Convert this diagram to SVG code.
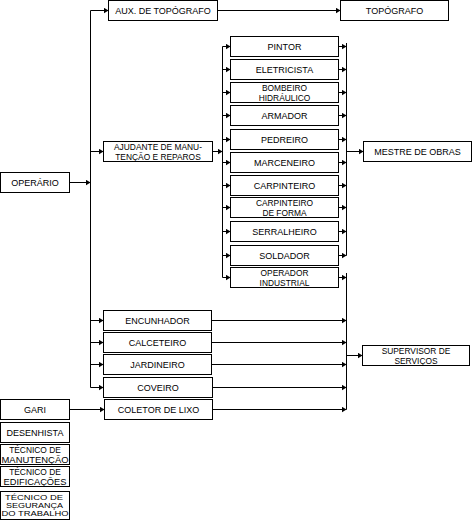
<svg xmlns="http://www.w3.org/2000/svg" width="472" height="530" viewBox="0 0 472 530">
<style>
  .box { fill: #fff; stroke: #000; stroke-width: 1; }
  .t { font-family: "Liberation Sans", Arial, sans-serif; font-size: 9px; fill: #000; text-anchor: middle; }
  .s { font-size: 8.4px; }
  .xs { font-size: 7.4px; }
  .c { stroke: #000; stroke-width: 1; fill: none; }
  .a { stroke: #000; stroke-width: 1; fill: none; marker-end: url(#ah); }
</style>
<defs>
  <marker id="ah" markerUnits="userSpaceOnUse" markerWidth="5" markerHeight="6" refX="5" refY="3" orient="auto">
    <path d="M0,0 L5,3 L0,6 z" fill="#000"/>
  </marker>
</defs>
<rect width="472" height="530" fill="#fff"/>

<g id="connectors">
  <line class="c" x1="90.5" y1="10.5" x2="90.5" y2="387.5"/>
  <line class="a" x1="69.5" y1="182.5" x2="90.5" y2="182.5"/>
  <line class="a" x1="90.5" y1="10.5" x2="108.5" y2="10.5"/>
  <line class="a" x1="90.5" y1="151.5" x2="103.5" y2="151.5"/>
  <line class="a" x1="90.5" y1="320.5" x2="103.5" y2="320.5"/>
  <line class="a" x1="90.5" y1="342.5" x2="103.5" y2="342.5"/>
  <line class="a" x1="90.5" y1="364.5" x2="103.5" y2="364.5"/>
  <line class="a" x1="90.5" y1="387.5" x2="103.5" y2="387.5"/>
  <line class="a" x1="217.5" y1="10.5" x2="340.5" y2="10.5"/>
  <line class="a" x1="212.5" y1="151.5" x2="222.5" y2="151.5"/>
  <line class="c" x1="222.5" y1="46.5" x2="222.5" y2="277.5"/>
  <line class="a" x1="222.5" y1="46.5" x2="230.5" y2="46.5"/>
  <line class="a" x1="222.5" y1="69.5" x2="230.5" y2="69.5"/>
  <line class="a" x1="222.5" y1="92.5" x2="230.5" y2="92.5"/>
  <line class="a" x1="222.5" y1="115.5" x2="230.5" y2="115.5"/>
  <line class="a" x1="222.5" y1="139.5" x2="230.5" y2="139.5"/>
  <line class="a" x1="222.5" y1="162.5" x2="230.5" y2="162.5"/>
  <line class="a" x1="222.5" y1="185.5" x2="230.5" y2="185.5"/>
  <line class="a" x1="222.5" y1="207.5" x2="230.5" y2="207.5"/>
  <line class="a" x1="222.5" y1="231.5" x2="230.5" y2="231.5"/>
  <line class="a" x1="222.5" y1="255.5" x2="230.5" y2="255.5"/>
  <line class="a" x1="222.5" y1="277.5" x2="230.5" y2="277.5"/>
  <line class="c" x1="346.5" y1="43" x2="346.5" y2="255.5"/>
  <line class="a" x1="338.5" y1="46.5" x2="346.5" y2="46.5"/>
  <line class="a" x1="338.5" y1="69.5" x2="346.5" y2="69.5"/>
  <line class="a" x1="338.5" y1="92.5" x2="346.5" y2="92.5"/>
  <line class="a" x1="338.5" y1="115.5" x2="346.5" y2="115.5"/>
  <line class="a" x1="338.5" y1="139.5" x2="346.5" y2="139.5"/>
  <line class="a" x1="338.5" y1="162.5" x2="346.5" y2="162.5"/>
  <line class="a" x1="338.5" y1="185.5" x2="346.5" y2="185.5"/>
  <line class="a" x1="338.5" y1="207.5" x2="346.5" y2="207.5"/>
  <line class="a" x1="338.5" y1="231.5" x2="346.5" y2="231.5"/>
  <line class="a" x1="338.5" y1="255.5" x2="346.5" y2="255.5"/>
  <line class="a" x1="346.5" y1="151.5" x2="363.5" y2="151.5"/>
  <line class="c" x1="346.5" y1="273" x2="346.5" y2="409.5"/>
  <line class="a" x1="338.5" y1="277.5" x2="346.5" y2="277.5"/>
  <line class="a" x1="211.5" y1="320.5" x2="346.5" y2="320.5"/>
  <line class="a" x1="211.5" y1="342.5" x2="346.5" y2="342.5"/>
  <line class="a" x1="211.5" y1="364.5" x2="346.5" y2="364.5"/>
  <line class="a" x1="212.5" y1="387.5" x2="346.5" y2="387.5"/>
  <line class="a" x1="212.5" y1="409.5" x2="346.5" y2="409.5"/>
  <line class="a" x1="346.5" y1="355.5" x2="362.5" y2="355.5"/>
  <line class="a" x1="69.5" y1="409.5" x2="104.5" y2="409.5"/>
</g>

<g id="aux"><rect class="box" x="108.5" y="0.5" width="109" height="20"/><text class="t" x="163" y="14">AUX. DE TOPÓGRAFO</text></g>
<g id="topografo"><rect class="box" x="340.5" y="0.5" width="108" height="20"/><text class="t" x="394.5" y="14">TOPÓGRAFO</text></g>
<g id="ajudante"><rect class="box" x="103.5" y="141.5" width="109" height="20"/><text class="t s" x="158" y="150.2">AJUDANTE DE MANU-</text><text class="t s" x="158" y="159.6">TENÇÃO E REPAROS</text></g>
<g id="operario"><rect class="box" x="0.5" y="172.5" width="69" height="20"/><text class="t" x="35" y="186">OPERÁRIO</text></g>

<g id="pintor"><rect class="box" x="230.5" y="36.5" width="108" height="20"/><text class="t" x="284.5" y="50">PINTOR</text></g>
<g id="eletricista"><rect class="box" x="230.5" y="59.5" width="108" height="20"/><text class="t" x="284.5" y="73">ELETRICISTA</text></g>
<g id="bombeiro"><rect class="box" x="230.5" y="82.5" width="108" height="20"/><text class="t s" x="284.5" y="91.2">BOMBEIRO</text><text class="t s" x="284.5" y="100.6">HIDRÁULICO</text></g>
<g id="armador"><rect class="box" x="230.5" y="105.5" width="108" height="20"/><text class="t" x="284.5" y="119">ARMADOR</text></g>
<g id="pedreiro"><rect class="box" x="230.5" y="129.5" width="108" height="20"/><text class="t" x="284.5" y="143">PEDREIRO</text></g>
<g id="marceneiro"><rect class="box" x="230.5" y="152.5" width="108" height="20"/><text class="t" x="284.5" y="166">MARCENEIRO</text></g>
<g id="carpinteiro"><rect class="box" x="230.5" y="175.5" width="108" height="20"/><text class="t" x="284.5" y="189">CARPINTEIRO</text></g>
<g id="carpinteiro-forma"><rect class="box" x="230.5" y="197.5" width="108" height="20"/><text class="t s" x="284.5" y="206.2">CARPINTEIRO</text><text class="t s" x="284.5" y="215.6">DE FORMA</text></g>
<g id="serralheiro"><rect class="box" x="230.5" y="221.5" width="108" height="20"/><text class="t" x="284.5" y="235">SERRALHEIRO</text></g>
<g id="soldador"><rect class="box" x="230.5" y="245.5" width="108" height="20"/><text class="t" x="284.5" y="259">SOLDADOR</text></g>
<g id="operador"><rect class="box" x="230.5" y="267.5" width="108" height="20"/><text class="t s" x="284.5" y="276.2">OPERADOR</text><text class="t s" x="284.5" y="285.6">INDUSTRIAL</text></g>

<g id="mestre"><rect class="box" x="363.5" y="141.5" width="108" height="20"/><text class="t" x="417.5" y="155">MESTRE DE OBRAS</text></g>
<g id="supervisor"><rect class="box" x="362.5" y="345.5" width="107" height="20"/><text class="t s" x="416" y="354.2">SUPERVISOR DE</text><text class="t s" x="416" y="363.6">SERVIÇOS</text></g>

<g id="encunhador"><rect class="box" x="103.5" y="310.5" width="108" height="20"/><text class="t" x="157.5" y="324">ENCUNHADOR</text></g>
<g id="calceteiro"><rect class="box" x="103.5" y="332.5" width="108" height="20"/><text class="t" x="157.5" y="346">CALCETEIRO</text></g>
<g id="jardineiro"><rect class="box" x="103.5" y="354.5" width="108" height="20"/><text class="t" x="157.5" y="368">JARDINEIRO</text></g>
<g id="coveiro"><rect class="box" x="103.5" y="377.5" width="109" height="20"/><text class="t" x="158" y="391">COVEIRO</text></g>
<g id="coletor"><rect class="box" x="104.5" y="399.5" width="108" height="20"/><text class="t" x="158.5" y="413">COLETOR DE LIXO</text></g>

<g id="gari"><rect class="box" x="0.5" y="399.5" width="69" height="20"/><text class="t" x="35" y="413">GARI</text></g>
<g id="desenhista"><rect class="box" x="0.5" y="422.5" width="69" height="20"/><text class="t" x="35" y="436">DESENHISTA</text></g>
<g id="tec-manutencao"><rect class="box" x="0.5" y="444.5" width="69" height="20"/><text class="t s" x="35" y="453.2">TÉCNICO DE</text><text class="t s" x="35" y="462.6" textLength="67" lengthAdjust="spacingAndGlyphs">MANUTENÇÃO</text></g>
<g id="tec-edificacoes"><rect class="box" x="0.5" y="466.5" width="69" height="20"/><text class="t s" x="35" y="475.2">TÉCNICO DE</text><text class="t s" x="35" y="484.6" textLength="63" lengthAdjust="spacingAndGlyphs">EDIFICAÇÕES</text></g>
<g id="tec-seguranca"><rect class="box" x="0.5" y="491.5" width="69" height="28"/><text class="t xs" x="34" y="499.5" textLength="58" lengthAdjust="spacingAndGlyphs">TÉCNICO DE</text><text class="t xs" x="34.5" y="507.9" textLength="57" lengthAdjust="spacingAndGlyphs">SEGURANÇA</text><text class="t xs" x="35" y="516.3" textLength="67" lengthAdjust="spacingAndGlyphs">DO TRABALHO</text></g>
</svg>
